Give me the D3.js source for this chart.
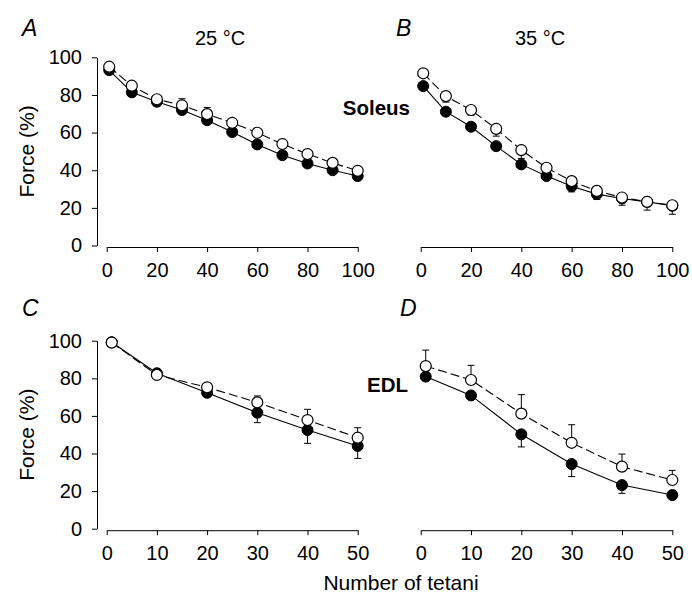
<!DOCTYPE html>
<html><head><meta charset="utf-8">
<script src="https://cdn.jsdelivr.net/npm/d3@7"></script>
<style>
body{margin:0;background:#fff;}
svg{display:block;font-family:"Liberation Sans",Arial,Helvetica,sans-serif;}
</style></head>
<body>
<svg id="chart" width="692" height="597"></svg>
<script>
// ---- data ----
const xSoleus = [1,10,20,30,40,50,60,70,80,90,100];
const xEDL = [1,10,20,30,40,50];
const soleusTicks = [0,20,40,60,80,100];
const edlTicks = [0,10,20,30,40,50];
const forceTicks = [0,20,40,60,80,100];

const aFilled = [93.2,81.4,76.4,72.0,66.6,60.3,53.7,48.0,43.6,40.0,36.9];
const aFilledErr = [1,1,1,1.5,1.5,1.5,2,2,1.5,1.5,1.5];
const aOpen = [95.0,84.9,77.7,74.5,69.8,65.2,59.9,53.9,48.6,43.9,39.7];
const aOpenErr = [1,1,1.5,3.5,3.5,1.5,1.5,1.5,1.5,1.5,1];

const bFilled = [84.7,71.1,63.1,52.8,43.1,36.9,31.5,27.3,25.0,23.2,21.1];
const bFilledErr = [1,1,1,1,1,1,3.0,2.8,2,2,2];
const bOpen = [91.5,79.4,72.0,62.0,50.7,41.3,34.2,29.0,25.5,23.2,21.4];
const bOpenErr = [1,3.2,2.8,3.9,4.4,2,1,1,4.1,4.4,4.8];

const cFilled = [99.2,82.7,72.3,61.7,52.5,44.0];
const cFilledErr = [0.5,1,1.5,5.3,7.1,6.6];
const cOpen = [99.0,81.8,75.2,67.2,57.8,48.4];
const cOpenErr = [0.5,1,1.5,3.4,5.7,5.3];

const dFilled = [80.9,70.9,50.2,34.4,23.2,17.9];
const dFilledErr = [1.5,1.5,6.7,6.7,4.4,1];
const dOpen = [86.5,79.1,61.2,45.7,33.0,25.9];
const dOpenErr = [8.5,7.8,10.1,9.6,6.7,5.1];

// ---- layout ----
const svg = d3.select("#chart");
const FS = 20;

const panels = [
  {letter:"A", x:xSoleus, ticks:soleusTicks, dom:[0,100], xr:[106.7,357.7], yr:[245.5,57.3], yaxis:true,
   filled:aFilled, fErr:aFilledErr, fDir:-1, open:aOpen, oErr:aOpenErr, oDir:1, lx:22, ly:36},
  {letter:"B", x:xSoleus, ticks:soleusTicks, dom:[0,100], xr:[420.7,672.3], yr:[245.5,57.3], yaxis:false,
   filled:bFilled, fErr:bFilledErr, fDir:-1, open:bOpen, oErr:bOpenErr, oDir:-1, lx:396, ly:36},
  {letter:"C", x:xEDL, ticks:edlTicks, dom:[0,50], xr:[106.7,357.7], yr:[528.7,340.7], yaxis:true,
   filled:cFilled, fErr:cFilledErr, fDir:-1, open:cOpen, oErr:cOpenErr, oDir:1, lx:22, ly:316},
  {letter:"D", x:xEDL, ticks:edlTicks, dom:[0,50], xr:[420.7,672.3], yr:[528.7,340.7], yaxis:false,
   filled:dFilled, fErr:dFilledErr, fDir:-1, open:dOpen, oErr:dOpenErr, oDir:1, lx:400, ly:316}
];

panels.forEach(p => {
  const xs = d3.scaleLinear().domain(p.dom).range(p.xr);
  const ys = d3.scaleLinear().domain([0,100]).range(p.yr);
  const g = svg.append("g");

  // x axis
  const xa = g.append("g").attr("transform", `translate(0,${ys(0)+1.5})`)
    .call(d3.axisBottom(xs).tickValues(p.ticks).tickSize(5).tickSizeOuter(0).tickPadding(11));
  xa.selectAll("text").attr("font-size", FS).attr("font-family", null).attr("fill","#000");
  xa.selectAll("path,line").attr("stroke","#000").attr("stroke-width",1);

  if (p.yaxis) {
    const ya = g.append("g").attr("transform", `translate(97,0)`)
      .call(d3.axisLeft(ys).tickValues(forceTicks).tickSize(5).tickSizeOuter(0).tickPadding(10));
    ya.selectAll("text").attr("font-size", FS).attr("font-family", null).attr("fill","#000");
    ya.selectAll("path,line").attr("stroke","#000").attr("stroke-width",1);
    g.append("text").attr("transform", `translate(34,${(p.yr[0]+p.yr[1])/2}) rotate(-90)`)
      .attr("text-anchor","middle").attr("font-size", 21).text("Force (%)");
  }

  const line = d3.line().x((d,i)=>xs(p.x[i])).y(d=>ys(d));

  // lines
  g.append("path").datum(p.filled).attr("d", line).attr("fill","none").attr("stroke","#000").attr("stroke-width",1.1);
  g.append("path").datum(p.open).attr("d", line).attr("fill","none").attr("stroke","#000").attr("stroke-width",1.1)
    .attr("stroke-dasharray","9,4");

  // error bars
  const drawErr = (vals, errs, dir) => {
    const eg = g.append("g").attr("stroke","#000").attr("stroke-width",1);
    vals.forEach((v,i) => {
      const x = xs(p.x[i]), y0 = ys(v), y1 = ys(v + dir*errs[i]);
      eg.append("line").attr("x1",x).attr("x2",x).attr("y1",y0).attr("y2",y1);
      eg.append("line").attr("x1",x-3.5).attr("x2",x+3.5).attr("y1",y1).attr("y2",y1);
    });
  };
  drawErr(p.filled, p.fErr, p.fDir);
  drawErr(p.open, p.oErr, p.oDir);

  // markers
  g.append("g").selectAll("circle").data(p.filled).join("circle")
    .attr("cx",(d,i)=>xs(p.x[i])).attr("cy",d=>ys(d)).attr("r",5.5)
    .attr("fill","#000").attr("stroke","#000").attr("stroke-width",1);
  g.append("g").selectAll("circle").data(p.open).join("circle")
    .attr("cx",(d,i)=>xs(p.x[i])).attr("cy",d=>ys(d)).attr("r",5.5)
    .attr("fill","#fff").attr("stroke","#000").attr("stroke-width",1.2);

  // panel letter
  svg.append("text").attr("x",p.lx).attr("y",p.ly).attr("font-size",23).attr("font-style","italic").text(p.letter);
});

// annotations
svg.append("text").attr("x",220).attr("y",45).attr("text-anchor","middle").attr("font-size",20).text("25 °C");
svg.append("text").attr("x",540).attr("y",45).attr("text-anchor","middle").attr("font-size",20).text("35 °C");
svg.append("text").attr("x",410).attr("y",115).attr("text-anchor","end").attr("font-size",20.5).attr("font-weight","bold").text("Soleus");
svg.append("text").attr("x",408).attr("y",392).attr("text-anchor","end").attr("font-size",20.5).attr("font-weight","bold").text("EDL");
svg.append("text").attr("x",401).attr("y",590).attr("text-anchor","middle").attr("font-size",21).text("Number of tetani");
</script>
</body></html>
